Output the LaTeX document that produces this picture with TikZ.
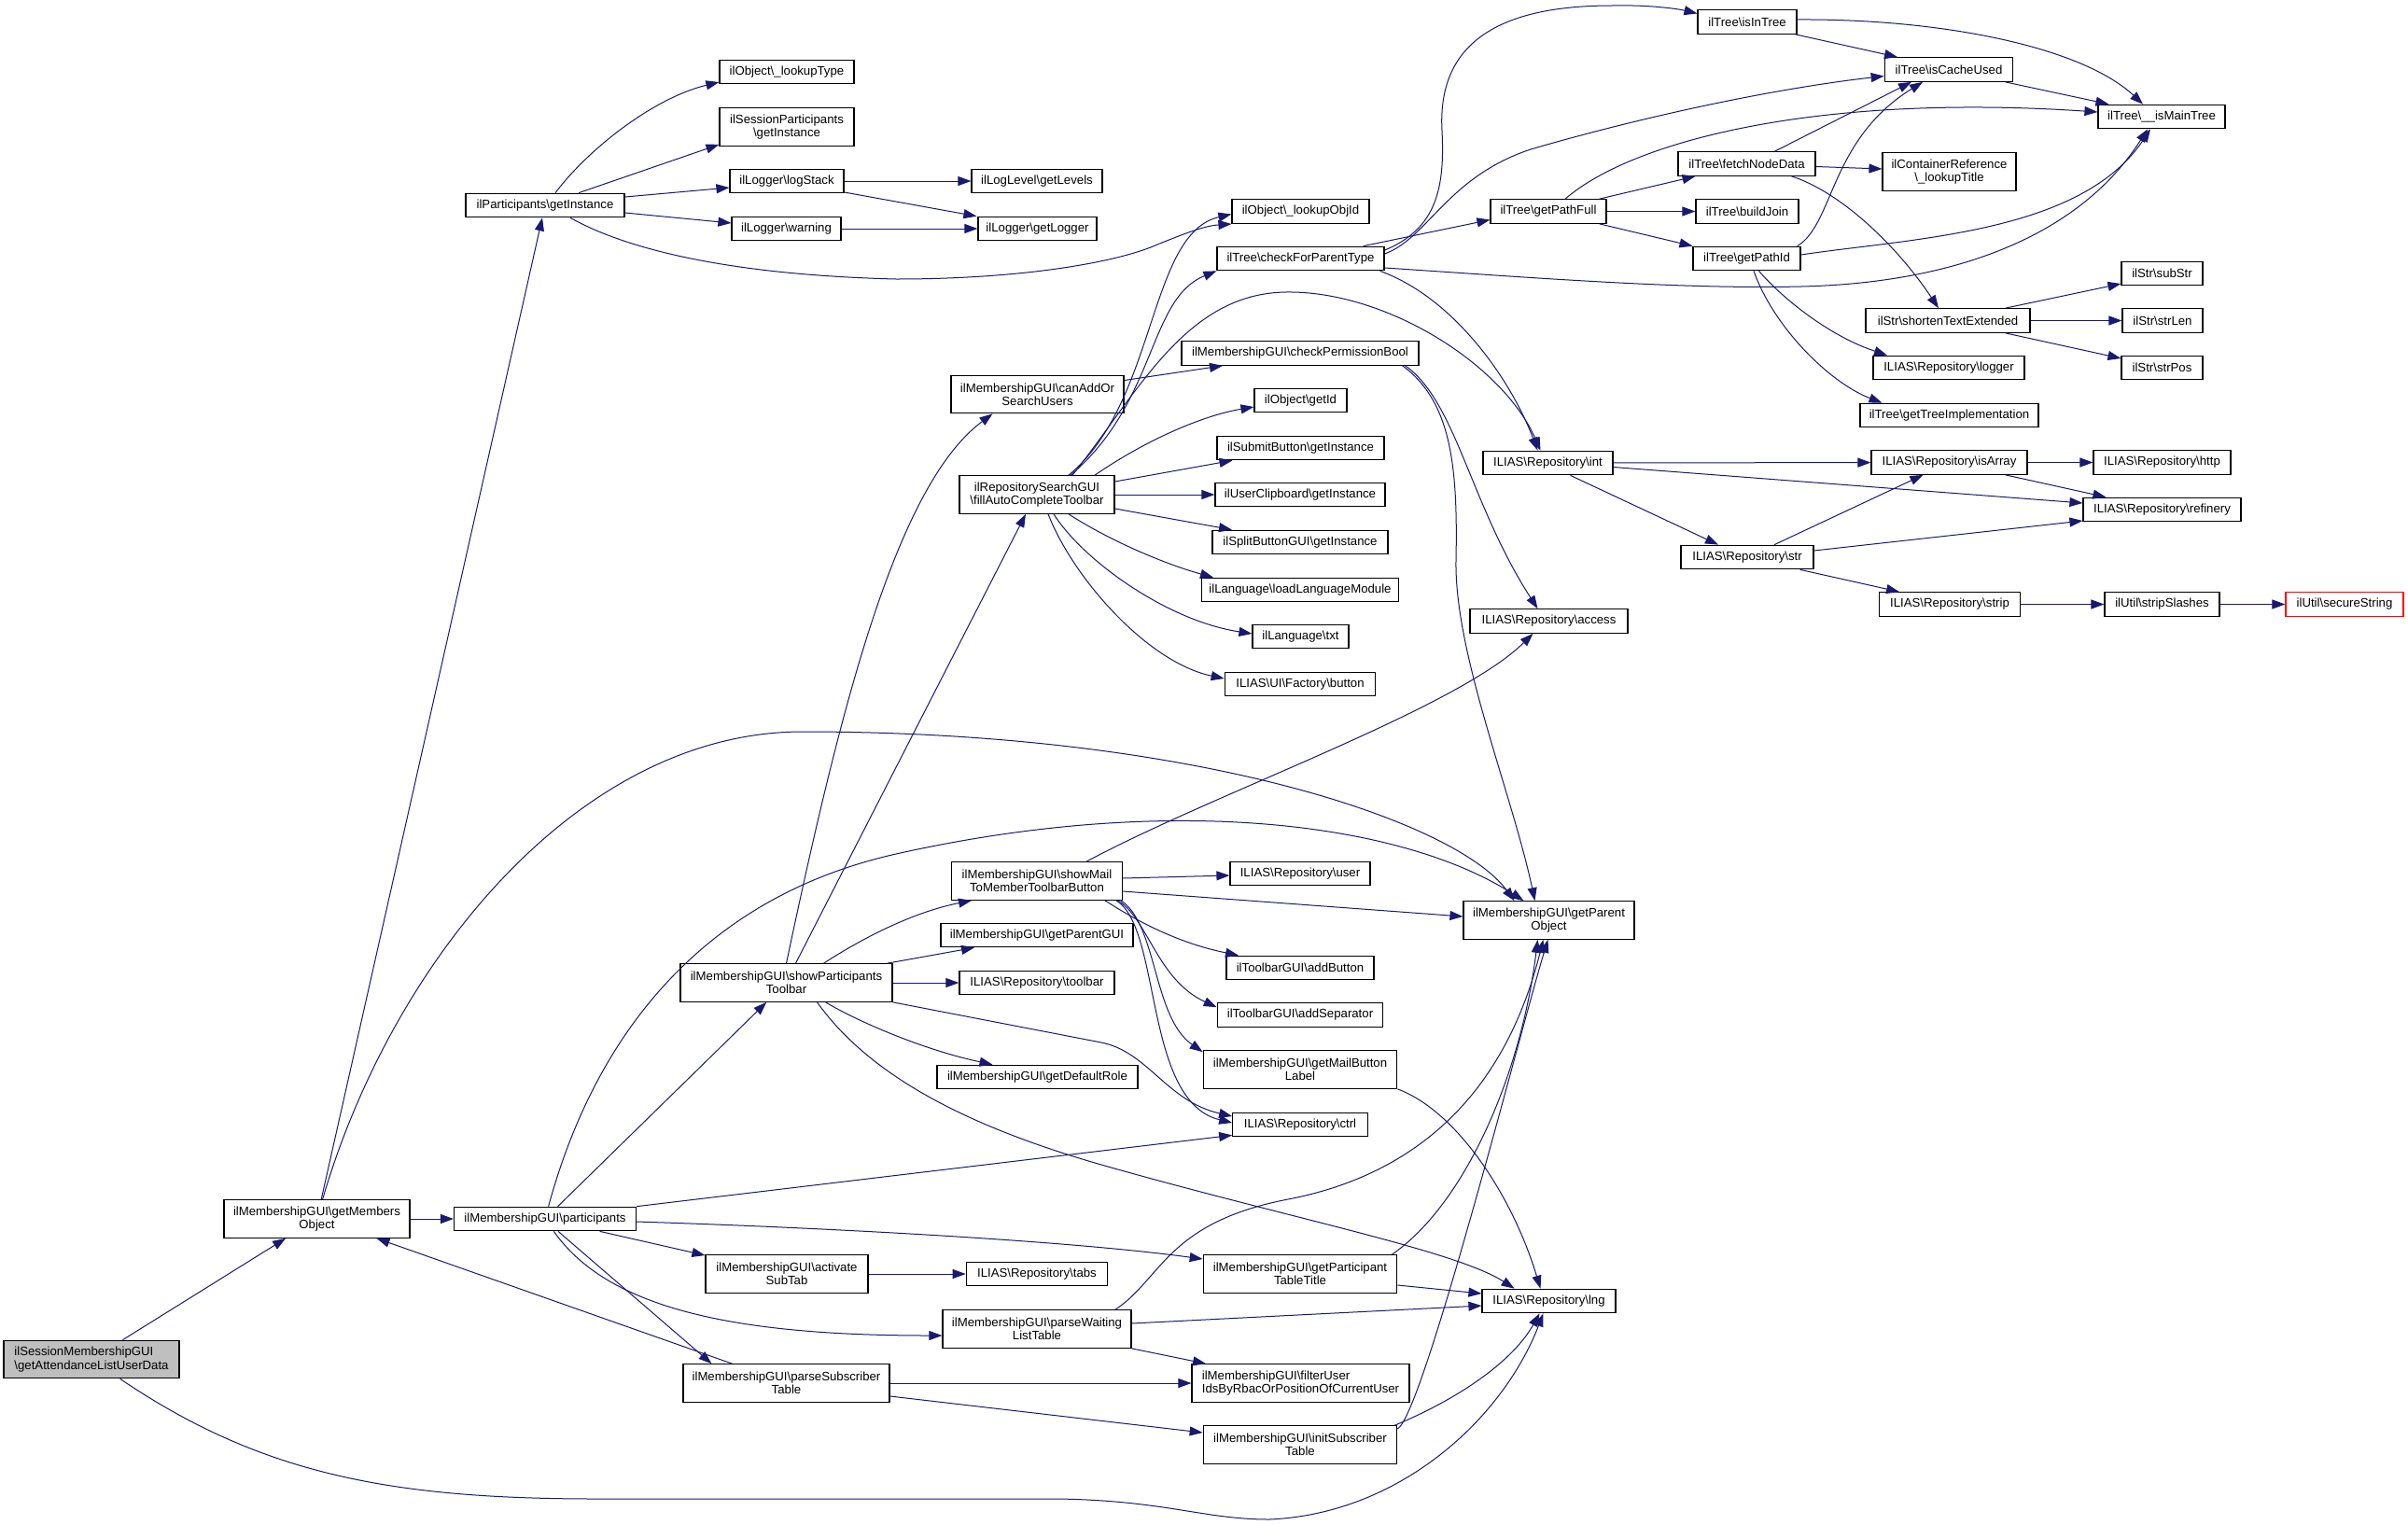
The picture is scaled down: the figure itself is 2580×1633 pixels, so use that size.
\documentclass[tikz,border=0pt]{standalone}
\usepackage{fontspec}
\setmainfont{Liberation Sans}
\usetikzlibrary{arrows.meta}
\definecolor{navy}{RGB}{25,25,112}
\newcommand{\bks}{\textbackslash}

\begin{document}
\begin{tikzpicture}[x=1pt,y=-1pt,
    func/.style={draw=black,line width=1.2pt,fill=white,inner sep=0pt,minimum height=25.5pt,
      align=center,font={\fontsize{13.2}{14.4}\selectfont}},
    two/.style={minimum height=40.5pt},
    root/.style={func,fill=black!25},
    cut/.style={func,draw=red},
    call/.style={draw=navy,line width=1pt,-{Triangle[length=14pt,width=10pt]}}]
  \fill[white] (0,0) rectangle (2580,1633);
  \useasboundingbox (0,0) rectangle (2580,1633);

  % rank 0 .. 2
  \node[root,two,align=left,minimum width=188pt] (sess) at (98,1456.5) {ilSessionMembershipGUI\\\bks getAttendanceListUserData};
  \node[func,two,minimum width=199pt] (getmem) at (339.5,1306) {ilMembershipGUI\bks getMembers\\Object};
  \node[func,minimum width=170pt] (partinst) at (584,220) {ilParticipants\bks getInstance};
  \node[func,minimum width=195pt] (partic) at (584,1306) {ilMembershipGUI\bks participants};

  % rank 3
  \node[func,minimum width=144pt] (lookuptype) at (843,77) {ilObject\bks\_lookupType};
  \node[func,two,minimum width=144pt] (sessinst) at (843,136) {ilSessionParticipants\\\bks getInstance};
  \node[func,minimum width=122pt] (logstack) at (843,194) {ilLogger\bks logStack};
  \node[func,minimum width=117pt] (warning) at (842.5,245) {ilLogger\bks warning};
  \node[func,two,minimum width=227pt] (showtb) at (842.5,1053) {ilMembershipGUI\bks showParticipants\\Toolbar};
  \node[func,two,minimum width=174pt] (activate) at (843,1365) {ilMembershipGUI\bks activate\\SubTab};
  \node[func,two,minimum width=221pt] (parsesub) at (842.5,1482) {ilMembershipGUI\bks parseSubscriber\\Table};

  % rank 4
  \node[func,minimum width=140pt] (getlevels) at (1111,194) {ilLogLevel\bks getLevels};
  \node[func,minimum width=127pt] (getlogger) at (1111.5,245) {ilLogger\bks getLogger};
  \node[func,two,minimum width=185pt] (canadd) at (1111.5,422.5) {ilMembershipGUI\bks canAddOr\\SearchUsers};
  \node[func,two,minimum width=166pt] (fillac) at (1111,530) {ilRepositorySearchGUI\\\bks fillAutoCompleteToolbar};
  \node[func,two,minimum width=182.5pt] (showmail) at (1111,944) {ilMembershipGUI\bks showMail\\ToMemberToolbarButton};
  \node[func,minimum width=206pt] (parentgui) at (1111,1002) {ilMembershipGUI\bks getParentGUI};
  \node[func,minimum width=166pt] (toolbar) at (1111,1053) {ILIAS\bks Repository\bks toolbar};
  \node[func,minimum width=215pt] (defrole) at (1111.5,1154) {ilMembershipGUI\bks getDefaultRole};
  \node[func,minimum width=151.5pt] (tabs) at (1111,1365) {ILIAS\bks Repository\bks tabs};
  \node[func,two,minimum width=202pt] (parsewait) at (1111,1424) {ilMembershipGUI\bks parseWaiting\\ListTable};

  % rank 5
  \node[func,minimum width=147pt] (lookupobjid) at (1393.5,226.5) {ilObject\bks\_lookupObjId};
  \node[func,minimum width=179pt] (checkparent) at (1393.5,277) {ilTree\bks checkForParentType};
  \node[func,minimum width=254pt] (checkperm) at (1393,378.5) {ilMembershipGUI\bks checkPermissionBool};
  \node[func,minimum width=99pt] (getid) at (1393.5,429) {ilObject\bks getId};
  \node[func,minimum width=179pt] (submit) at (1393.5,480) {ilSubmitButton\bks getInstance};
  \node[func,minimum width=182pt] (clipboard) at (1393,530) {ilUserClipboard\bks getInstance};
  \node[func,minimum width=188pt] (splitbtn) at (1393,581) {ilSplitButtonGUI\bks getInstance};
  \node[func,minimum width=210.5pt] (loadlang) at (1393,632) {ilLanguage\bks loadLanguageModule};
  \node[func,minimum width=103pt] (txt) at (1393.5,682) {ilLanguage\bks txt};
  \node[func,minimum width=161.5pt] (factbtn) at (1393,733) {ILIAS\bks UI\bks Factory\bks button};
  \node[func,minimum width=150pt] (user) at (1393,936) {ILIAS\bks Repository\bks user};
  \node[func,minimum width=158pt] (addbtn) at (1393,1037) {ilToolbarGUI\bks addButton};
  \node[func,minimum width=177.5pt] (addsep) at (1393,1087.5) {ilToolbarGUI\bks addSeparator};
  \node[func,two,minimum width=207.5pt] (mailbtn) at (1393,1146) {ilMembershipGUI\bks getMailButton\\Label};
  \node[func,minimum width=144.5pt] (ctrl) at (1393,1205) {ILIAS\bks Repository\bks ctrl};
  \node[func,two,minimum width=207.5pt] (parttitle) at (1393,1365) {ilMembershipGUI\bks getParticipant\\TableTitle};
  \node[func,two,align=left,minimum width=233pt] (filteruser) at (1393.5,1482) {ilMembershipGUI\bks filterUser\\IdsByRbacOrPositionOfCurrentUser};
  \node[func,two,minimum width=207.5pt] (initsub) at (1393,1548) {ilMembershipGUI\bks initSubscriber\\Table};

  % rank 6
  \node[func,minimum width=124pt] (getpathfull) at (1659,226.5) {ilTree\bks getPathFull};
  \node[func,minimum width=139pt] (repoint) at (1658.5,496) {ILIAS\bks Repository\bks int};
  \node[func,minimum width=169pt] (access) at (1659.5,665.5) {ILIAS\bks Repository\bks access};
  \node[func,two,minimum width=183pt] (parentobj) at (1659.5,986) {ilMembershipGUI\bks getParent\\Object};
  \node[func,minimum width=143pt] (lng) at (1659.5,1394) {ILIAS\bks Repository\bks lng};

  % rank 7
  \node[func,minimum width=106pt] (isintree) at (1872,23.5) {ilTree\bks isInTree};
  \node[func,minimum width=147pt] (fetch) at (1871.5,175.5) {ilTree\bks fetchNodeData};
  \node[func,minimum width=110pt] (buildjoin) at (1872,226.5) {ilTree\bks buildJoin};
  \node[func,minimum width=115pt] (getpathid) at (1871.5,277) {ilTree\bks getPathId};
  \node[func,minimum width=142pt] (repostr) at (1872,597) {ILIAS\bks Repository\bks str};

  % rank 8
  \node[func,minimum width=137.5pt] (cacheused) at (2088,74.5) {ilTree\bks isCacheUsed};
  \node[func,two,minimum width=143pt] (lookuptitle) at (2088.5,184) {ilContainerReference\\\bks\_lookupTitle};
  \node[func,minimum width=176pt] (shorten) at (2087,343.5) {ilStr\bks shortenTextExtended};
  \node[func,minimum width=162pt] (logger) at (2088,394) {ILIAS\bks Repository\bks logger};
  \node[func,minimum width=191pt] (treeimpl) at (2088.5,445) {ilTree\bks getTreeImplementation};
  \node[func,minimum width=167pt] (isarray) at (2088.5,495.5) {ILIAS\bks Repository\bks isArray};
  \node[func,minimum width=150.5pt] (strip) at (2089,647.5) {ILIAS\bks Repository\bks strip};

  % rank 9 .. 10
  \node[func,minimum width=136pt] (ismain) at (2316,125) {ilTree\bks\_\_isMainTree};
  \node[func,minimum width=87pt] (substr) at (2316.5,293) {ilStr\bks subStr};
  \node[func,minimum width=86pt] (strlen) at (2317,343.5) {ilStr\bks strLen};
  \node[func,minimum width=87pt] (strpos) at (2316.5,394) {ilStr\bks strPos};
  \node[func,minimum width=147pt] (http) at (2316.5,495.5) {ILIAS\bks Repository\bks http};
  \node[func,minimum width=169pt] (refinery) at (2316.5,546) {ILIAS\bks Repository\bks refinery};
  \node[func,minimum width=123pt] (stripslashes) at (2316.5,647.5) {ilUtil\bks stripSlashes};
  \node[cut,minimum width=126pt] (securestr) at (2512,647.5) {ilUtil\bks secureString};

  % calls of getAttendanceListUserData and getMembersObject
  \draw[call] (sess) -- (getmem);
  \draw[call] (sess) .. controls (280,1580) and (420,1606) .. (640,1606) -- (1134,1606)
    .. controls (1250,1608) and (1290,1628) .. (1360,1628) .. controls (1500,1622) and (1610,1520) .. ([xshift=-6pt]lng.south);
  \draw[call] (getmem) -- (partic);
  \draw[call] (getmem) -- (partinst);
  \draw[call] (getmem) .. controls (420,1030) and (620,784) .. (860,784) .. controls (1280,784) and (1560,880) .. ([xshift=-37pt]parentobj.north);

  % participants
  \draw[call] (partic) .. controls (640,1100) and (760,960) .. (960,915) .. controls (1250,850) and (1500,880) .. ([xshift=-27pt]parentobj.north);
  \draw[call] (partic) -- (showtb);
  \draw[call] (partic.north east) -- ([yshift=2pt]ctrl.south west);
  \draw[call] ([yshift=-3pt]partic.east) .. controls (900,1316) and (1150,1330) .. ([yshift=16pt]parttitle.west);
  \draw[call] (partic) -- (activate);
  \draw[call] (partic) .. controls (650,1400) and (780,1431) .. ([yshift=-7pt]parsewait.west);
  \draw[call] ([xshift=14pt]partic.south) -- ([xshift=-80pt]parsesub.north);
  \draw[call] (activate) -- (tabs);

  % table parsing
  \draw[call] ([xshift=-58pt]parsesub.north) -- ([xshift=64pt]getmem.south);
  \draw[call] (parsesub) -- (filteruser);
  \draw[call] ([yshift=-14pt]parsesub.east) -- ([yshift=13pt]initsub.west);
  \draw[call] ([yshift=6pt]parsewait.east) -- ([yshift=-5pt]lng.west);
  \draw[call] (parsewait) -- (filteruser);
  \draw[call] ([xshift=84pt]parsewait.north) .. controls (1245,1370) and (1250,1310) .. (1380,1285)
    .. controls (1510,1260) and (1610,1180) .. ([xshift=-6pt]parentobj.south);
  \draw[call] ([yshift=-12pt]parttitle.east) -- ([yshift=8pt]lng.west);
  \draw[call] ([xshift=-6pt]parttitle.north east) .. controls (1570,1290) and (1630,1150) .. ([xshift=-12pt]parentobj.south);
  \draw[call] ([xshift=-3pt]initsub.north east) .. controls (1560,1500) and (1620,1460) .. ([xshift=-10pt]lng.south);
  \draw[call] ([yshift=17pt]initsub.east) .. controls (1525,1515) and (1630,1100) .. ([xshift=-1pt]parentobj.south);

  % showParticipantsToolbar
  \draw[call] (showtb.north) .. controls (900,760) and (960,520) .. ([xshift=-48pt]canadd.south);
  \draw[call] ([xshift=10pt]showtb.north) -- ([xshift=-12pt]fillac.south);
  \draw[call] ([xshift=40pt]showtb.north) .. controls (940,995) and (990,975) .. ([xshift=-70pt]showmail.south);
  \draw[call] ([xshift=-6pt]showtb.north east) -- ([xshift=-67pt]parentgui.south);
  \draw[call] (showtb) -- (toolbar);
  \draw[call] (showtb.south east) -- (1180,1117) .. controls (1230,1127) and (1250,1180) .. ([yshift=9pt]ctrl.west);
  \draw[call] ([xshift=42pt]showtb.south) .. controls (920,1095) and (990,1125) .. ([xshift=-48pt]defrole.north);
  \draw[call] ([xshift=33pt]showtb.south) .. controls (930,1150) and (1030,1205) .. (1180,1248)
    .. controls (1380,1305) and (1560,1340) .. ([xshift=-37pt]lng.north);

  % showMailToMemberToolbarButton
  \draw[call] ([xshift=53pt]showmail.north) .. controls (1300,850) and (1560,760) .. ([xshift=-17pt]access.south);
  \draw[call] ([yshift=3pt]showmail.east) -- ([yshift=-2pt]user.west);
  \draw[call] ([yshift=-11pt]showmail.east) -- ([yshift=4pt]parentobj.west);
  \draw[call] ([xshift=73pt]showmail.south) .. controls (1215,985) and (1260,1010) .. ([xshift=-66pt]addbtn.north);
  \draw[call] ([xshift=87pt]showmail.south) .. controls (1230,985) and (1240,1050) .. ([yshift=-5pt]addsep.north west);
  \draw[call] ([xshift=-2pt]showmail.south east) .. controls (1240,990) and (1235,1090) .. ([yshift=-2pt]mailbtn.north west);
  \draw[call] ([xshift=85pt]showmail.south) .. controls (1245,995) and (1225,1180) .. ([yshift=2pt]ctrl.west);
  \draw[call] (mailbtn.south east) .. controls (1560,1190) and (1620,1280) .. ([xshift=-9pt]lng.north);

  % canAddOrSearchUsers, checkPermissionBool
  \draw[call] ([yshift=15pt]canadd.east) -- ([xshift=-83pt]checkperm.south);
  \draw[call] ([xshift=-18pt]checkperm.south east) .. controls (1555,430) and (1562,500) .. (1560,600)
    .. controls (1558,700) and (1620,850) .. ([xshift=-15pt]parentobj.north);
  \draw[call] ([xshift=-15pt]checkperm.south east) .. controls (1560,430) and (1575,540) .. ([xshift=-12pt]access.north);

  % fillAutoCompleteToolbar
  \draw[call] ([xshift=34pt]fillac.north) .. controls (1240,430) and (1230,250) .. ([yshift=-3pt]lookupobjid.west);
  \draw[call] ([xshift=36pt]fillac.north) .. controls (1240,430) and (1230,320) .. (checkparent.south west);
  \draw[call] ([xshift=38pt]fillac.north) .. controls (1220,420) and (1270,315) .. (1377,313)
    .. controls (1484,311) and (1610,390) .. ([xshift=-8pt]repoint.north);
  \draw[call] ([xshift=62pt]fillac.north) .. controls (1230,470) and (1290,445) .. ([yshift=-7pt]getid.west);
  \draw[call] ([yshift=14pt]fillac.east) -- ([xshift=-73pt]submit.south);
  \draw[call] (fillac) -- (clipboard);
  \draw[call] ([yshift=-15pt]fillac.east) -- ([xshift=-73pt]splitbtn.north);
  \draw[call] ([xshift=34pt]fillac.south) .. controls (1190,580) and (1250,605) .. ([xshift=-93pt]loadlang.north);
  \draw[call] ([xshift=18pt]fillac.south) .. controls (1160,600) and (1250,665) .. ([yshift=3pt]txt.west);
  \draw[call] ([xshift=12pt]fillac.south) .. controls (1150,620) and (1230,710) .. ([yshift=6pt]factbtn.west);

  % ilTree
  \draw[call] ([yshift=9pt]checkparent.east) .. controls (1540,245) and (1548,200) .. (1545,140)
    .. controls (1540,50) and (1600,6) .. (1727,6) .. controls (1770,5) and (1800,10) .. ([yshift=9pt]isintree.west);
  \draw[call] ([yshift=5pt]checkparent.east) .. controls (1530,255) and (1550,190) .. (1640,160)
    .. controls (1760,125) and (1900,95) .. ([yshift=-7pt]cacheused.west);
  \draw[call] ([xshift=-23pt]checkparent.north east) -- ([yshift=-9pt]getpathfull.west);
  \draw[call] ([yshift=-10pt]checkparent.east) .. controls (1650,298) and (1800,310) .. (1930,307)
    .. controls (2100,303) and (2230,250) .. ([xshift=-15pt]ismain.south);
  \draw[call] ([xshift=-5pt]checkparent.south east) .. controls (1560,320) and (1620,410) .. ([xshift=-11pt]repoint.north);
  \draw[call] ([xshift=18pt]getpathfull.north) .. controls (1750,150) and (1950,100) .. ([yshift=5pt]ismain.west);
  \draw[call] ([xshift=-8pt]getpathfull.north east) -- ([xshift=-55pt]fetch.south);
  \draw[call] (getpathfull) -- (buildjoin);
  \draw[call] ([xshift=-8pt]getpathfull.south east) -- ([xshift=-58pt]getpathid.north);
  \draw[call] ([xshift=-2pt]isintree.south east) -- ([xshift=-55pt]cacheused.north);
  \draw[call] ([yshift=2.5pt]isintree.east) .. controls (2080,20) and (2230,50) .. ([xshift=-20pt]ismain.north);
  \draw[call] ([xshift=-9pt]cacheused.south east) -- ([xshift=12pt]ismain.north west);
  \draw[call] ([xshift=30pt]fetch.north) -- ([xshift=-40pt]cacheused.south);
  \draw[call] ([yshift=-3pt]fetch.east) -- ([yshift=3pt]lookuptitle.west);
  \draw[call] ([xshift=48pt]fetch.south) .. controls (1970,205) and (2030,260) .. ([xshift=-10pt]shorten.north);
  \draw[call] ([xshift=-4pt]getpathid.north east) .. controls (1965,240) and (1960,150) .. ([xshift=-28pt]cacheused.south);
  \draw[call] ([yshift=4pt]getpathid.east) .. controls (2050,255) and (2230,250) .. ([xshift=-12pt]ismain.south);
  \draw[call] ([xshift=13pt]getpathid.south) .. controls (1910,320) and (1960,360) .. ([xshift=-66pt]logger.north);
  \draw[call] ([xshift=7.5pt]getpathid.south) .. controls (1900,350) and (1960,410) .. ([xshift=-72pt]treeimpl.north);

  % ilStr, repository
  \draw[call] ([xshift=-27pt]shorten.north east) -- ([yshift=-11pt]substr.west);
  \draw[call] (shorten) -- (strlen);
  \draw[call] ([xshift=-27pt]shorten.south east) -- ([yshift=10pt]strpos.west);
  \draw[call] (repoint) -- (isarray);
  \draw[call] ([yshift=-4.5pt]repoint.east) -- ([yshift=7pt]refinery.west);
  \draw[call] ([xshift=24pt]repoint.south) -- ([xshift=-31pt]repostr.north);
  \draw[call] ([xshift=29pt]repostr.north) -- ([xshift=-28pt]isarray.south);
  \draw[call] ([yshift=7pt]repostr.east) -- ([yshift=-12pt]refinery.west);
  \draw[call] ([xshift=-15pt]repostr.south east) -- ([xshift=-54pt]strip.north);
  \draw[call] (isarray) -- (http);
  \draw[call] ([xshift=-24pt]isarray.south east) -- ([xshift=25pt]refinery.north west);
  \draw[call] (strip) -- (stripslashes);
  \draw[call] (stripslashes) -- (securestr);

  % ilParticipants::getInstance and logger
  \draw[call] ([xshift=11pt]partinst.north) .. controls (630,160) and (700,105) .. ([yshift=-11pt]lookuptype.west);
  \draw[call] ([xshift=36pt]partinst.north) -- ([yshift=2pt]sessinst.south west);
  \draw[call] ([yshift=9pt]partinst.east) -- ([yshift=-7pt]logstack.west);
  \draw[call] ([yshift=-8pt]partinst.east) -- ([yshift=6pt]warning.west);
  \draw[call] ([xshift=27pt]partinst.south) .. controls (680,272) and (800,295) .. (960,299)
    .. controls (1100,299) and (1200,280) .. (1240,262) .. controls (1270,250) and (1290,242) .. ([yshift=-13.5pt]lookupobjid.west);
  \draw[call] (logstack) -- (getlevels);
  \draw[call] ([yshift=-12pt]logstack.east) -- ([xshift=-1pt]getlogger.north west);
  \draw[call] (warning) -- (getlogger);
\end{tikzpicture}
\end{document}
